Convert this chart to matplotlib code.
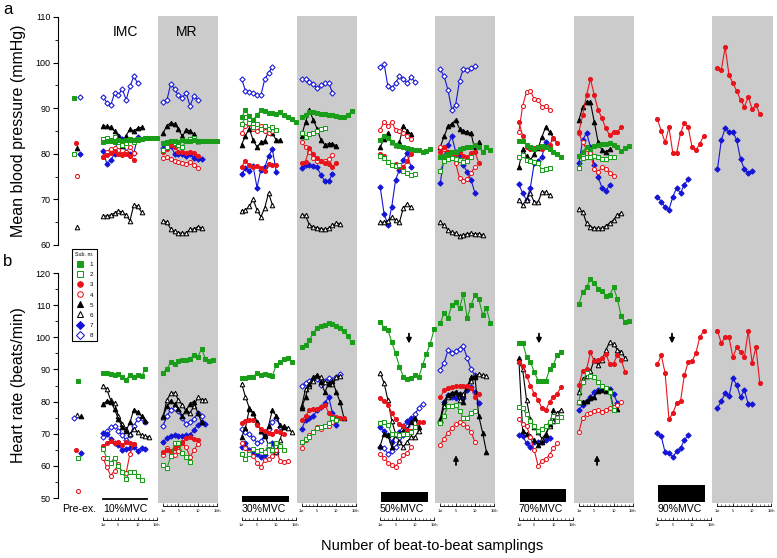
import matplotlib.pyplot as plt
from matplotlib.lines import Line2D
import numpy as np

plt.rcParams['font.family'] = ['Liberation Sans', 'DejaVu Sans']

output_path = "out.png"

""" subjects """
subjects = [1, 2, 3, 4, 5, 6, 7, 8]
sub_color = ['#1a9e1a', '#1a9e1a', '#e8141c', '#e8141c', 'black', 'black', '#1414d8', '#1414d8']
sub_marker = ['s', 's', 'o', 'o', '^', '^', 'D', 'D']
sub_filled = [True, False, True, False, True, False, True, False]

""" pre-exercise values (sub 1..8) """
mbp_pre = [92.2, 79.9, 82.3, 75.2, 81.2, 64.0, 79.9, 92.4]
hr_pre = [86.5, 62.3, 65.0, 52.3, 75.6, 75.8, 64.0, 75.0]

""" mean blood pressure (mmHg), beat-to-beat """
mbp_imc10 = {
    1: [82.5, 82.8, 83.0, 82.5, 83.0, 82.8, 83.0, 83.3, 83.0, 83.3, 83.3, 83.5, 83.5, 83.5, 83.5],
    2: [83.2, 83.5, 82.8, 83.6, 82.5, 82.0, 82.3, 83.0, 82.5, 83.0],
    3: [79.3, 79.7, 80.2, 80.6, 80.0, 79.8, 80.0, 79.5, 78.6],
    4: [79.3, 80.5, 81.0, 81.2, 80.8, 80.0, 80.5, 81.5, 80.2],
    5: [86.2, 86.0, 85.8, 85.0, 84.0, 81.8, 84.0, 85.4, 85.0, 85.6, 85.8],
    6: [66.3, 66.4, 66.6, 67.0, 67.5, 67.2, 66.6, 65.3, 68.8, 68.5, 67.2],
    7: [80.6, 77.8, 78.6, 80.0, 83.8, 83.2, 80.3, 80.0, 80.2, 83.6],
    8: [92.5, 91.2, 90.6, 93.3, 92.8, 94.3, 91.8, 94.8, 97.0, 95.5],
}
mbp_mr10 = {
    1: [82.3, 82.5, 82.8, 82.7, 82.5, 83.0, 82.8, 82.9, 83.0, 82.8, 82.7, 82.8, 82.7, 82.8, 82.8],
    2: [80.8, 81.5, 82.7, 82.3, 82.0, 81.5, 82.8, 83.3, 83.5, 82.8],
    3: [80.3, 81.0, 82.0, 81.5, 80.5, 80.3, 80.2, 80.5, 80.2, 79.5],
    4: [79.0, 79.2, 78.8, 78.5, 78.3, 78.0, 77.8, 78.2, 77.5, 76.8],
    5: [84.5, 86.2, 86.8, 86.5, 85.5, 83.8, 85.3, 85.0, 84.3, 82.8],
    6: [65.3, 65.0, 63.5, 63.0, 62.7, 62.6, 62.6, 63.4, 63.5, 64.0, 63.8],
    7: [81.2, 81.5, 81.8, 80.0, 80.0, 80.0, 79.5, 80.0, 79.0, 78.8, 78.8],
    8: [91.3, 91.8, 95.3, 94.2, 92.8, 92.3, 93.4, 90.5, 92.7, 91.8],
}
mbp_imc30 = {
    1: [88.0, 89.6, 88.2, 87.5, 88.5, 89.5, 89.3, 89.0, 89.0, 88.8, 89.2, 88.6, 88.0, 87.6, 87.0],
    2: [86.5, 88.0, 86.8, 85.8, 86.5, 85.5, 86.2, 85.5, 85.8, 85.2],
    3: [77.2, 78.4, 77.6, 77.0, 77.3, 76.8, 76.2, 77.8, 77.5, 77.6],
    4: [84.5, 86.0, 86.5, 85.5, 85.0, 86.0, 85.0, 84.5, 85.0],
    5: [82.0, 84.0, 85.5, 83.0, 81.5, 82.5, 82.8, 85.0, 84.5, 83.0, 83.0],
    6: [67.5, 67.6, 68.5, 70.0, 67.7, 66.2, 68.1, 71.4, 68.8],
    7: [75.5, 76.8, 76.3, 77.3, 72.6, 76.5, 77.0, 79.5, 81.0, 76.0],
    8: [96.5, 93.8, 93.6, 93.3, 93.0, 92.8, 96.3, 97.8, 99.0],
}
mbp_mr30 = {
    1: [88.0, 88.5, 89.2, 89.2, 89.0, 88.8, 88.7, 88.5, 88.6, 88.3, 88.0, 88.0, 88.5, 89.4],
    2: [84.5, 83.6, 84.3, 84.6, 85.0, 85.5, 85.6],
    3: [78.0, 78.3, 81.2, 80.0, 79.0, 78.5, 78.0, 77.8, 77.2, 78.0],
    4: [82.6, 81.5, 80.5, 79.0, 78.5, 78.5, 78.5, 78.8, 79.8],
    5: [84.0, 87.0, 89.5, 87.5, 85.5, 83.0, 82.0, 82.2, 82.2, 81.8],
    6: [66.6, 66.5, 64.4, 64.0, 63.8, 63.6, 63.4, 63.7, 64.3, 64.8, 64.6],
    7: [76.8, 77.6, 77.5, 77.3, 77.0, 75.4, 74.0, 74.0, 75.6],
    8: [96.4, 96.3, 95.8, 95.2, 94.4, 95.0, 95.5, 95.6, 93.4],
}
mbp_imc50 = {
    1: [83.0, 84.0, 83.5, 82.5, 82.0, 81.8, 81.5, 81.3, 81.0, 80.8, 80.8, 80.5, 80.6, 81.0],
    2: [79.5, 79.0, 78.3, 77.5, 77.4, 77.5, 76.3, 75.8, 75.4, 75.6],
    3: [80.0, 79.5, 78.3, 77.5, 77.8, 77.2, 77.0, 78.5, 80.0],
    4: [85.3, 87.0, 86.0, 87.0, 85.2, 85.0, 84.5, 84.0, 83.3],
    5: [81.5, 83.3, 84.6, 82.5, 82.0, 82.5, 86.2, 85.0, 84.3],
    6: [65.0, 65.0, 65.3, 66.1, 65.5, 65.0, 68.1, 69.0, 68.3],
    7: [72.7, 66.9, 64.4, 68.4, 74.3, 76.5, 78.6, 80.1, 77.1],
    8: [99.0, 99.8, 94.8, 94.4, 95.5, 97.0, 96.5, 95.5, 96.8, 95.8],
}
mbp_mr50 = {
    1: [79.3, 79.5, 80.0, 80.3, 80.5, 81.0, 81.3, 81.5, 81.5, 82.0, 81.5, 80.5, 81.5, 80.8],
    2: [76.3, 78.5, 78.8, 79.1, 78.9, 78.6, 78.3, 78.4, 79.4],
    3: [80.3, 81.5, 80.5, 80.2, 80.0, 80.3, 79.6, 79.2, 80.2, 80.5, 78.0],
    4: [81.5, 81.0, 80.5, 79.7, 77.9, 74.7, 74.0, 74.4, 75.8, 77.2],
    5: [81.5, 83.8, 86.0, 86.6, 87.4, 85.5, 85.0, 84.8, 84.5, 80.8, 82.6],
    6: [65.0, 64.3, 63.3, 62.8, 62.6, 62.0, 62.2, 62.5, 62.6, 62.4, 62.5, 62.2],
    7: [73.5, 79.5, 82.0, 83.8, 80.5, 79.7, 77.5, 76.0, 74.3, 71.4],
    8: [98.5, 97.0, 94.0, 89.6, 90.8, 96.0, 98.7, 98.4, 98.8, 99.3],
}
mbp_imc70 = {
    1: [82.8, 82.8, 82.0, 81.5, 81.0, 81.5, 81.8, 81.5, 81.0, 80.5, 80.0, 79.3],
    2: [79.3, 79.8, 78.6, 78.4, 78.3, 78.0, 76.4, 76.6, 76.9],
    3: [87.0, 84.0, 81.5, 81.0, 81.2, 81.5, 81.0, 81.5, 82.0, 83.5, 82.3],
    4: [84.8, 90.5, 93.6, 93.8, 92.0, 91.9, 90.3, 90.4, 89.6],
    5: [77.0, 81.0, 79.5, 78.6, 80.0, 81.2, 83.7, 85.9, 84.8, 83.5],
    6: [69.9, 68.8, 69.9, 71.4, 69.4, 69.4, 71.6, 71.6, 71.0],
    7: [73.3, 71.4, 69.9, 72.6, 77.9, 78.5, 79.3, 82.6],
}
mbp_mr70 = {
    1: [79.5, 80.5, 81.5, 81.0, 81.7, 81.9, 82.1, 82.2, 82.3, 82.0, 81.5, 80.6, 81.2, 81.7],
    2: [76.9, 79.0, 79.3, 79.2, 79.5, 79.2, 78.8, 78.8, 79.3, 79.4],
    3: [84.8, 88.5, 92.9, 96.4, 92.9, 89.6, 87.8, 85.6, 84.1, 84.8, 84.8, 85.9],
    4: [84.5, 82.5, 81.0, 80.2, 76.6, 76.1, 77.0, 76.6, 75.8, 75.2],
    5: [87.4, 90.3, 91.4, 91.3, 87.0, 82.6, 80.8, 80.4, 81.0],
    6: [67.9, 67.3, 64.8, 64.0, 63.7, 63.7, 63.7, 64.2, 64.8, 65.5, 66.6, 67.0],
    7: [78.0, 83.0, 84.6, 81.5, 77.5, 75.0, 72.5, 71.9, 73.2],
}
mbp_imc90 = {
    3: [87.6, 85.0, 82.5, 85.8, 80.2, 80.2, 84.5, 86.8, 85.8, 81.5, 80.8, 82.2, 83.9],
    7: [70.6, 69.5, 68.3, 67.7, 70.6, 72.5, 71.4, 73.2, 74.4],
}
mbp_mr90 = {
    3: [98.8, 98.4, 103.4, 97.3, 95.5, 93.8, 91.8, 90.3, 92.5, 89.8, 90.7, 88.7],
    7: [76.6, 83.0, 85.6, 84.8, 84.8, 83.0, 78.8, 76.6, 75.8, 76.2],
}

""" heart rate (beats/min), beat-to-beat """
hr_imc10 = {
    1: [89.0, 88.8, 88.5, 88.2, 88.7, 87.7, 86.8, 88.3, 87.8, 88.3, 87.9, 90.0],
    2: [65.2, 62.5, 61.0, 62.5, 60.0, 58.0, 56.0, 58.2, 58.0, 56.8, 55.7],
    3: [66.3, 67.0, 67.8, 67.0, 67.3, 66.6, 67.4, 67.1, 66.7],
    4: [62.5, 59.5, 57.0, 58.5, 60.5, 58.0, 57.7, 63.8, 66.8],
    5: [79.2, 80.2, 80.0, 77.6, 74.6, 72.0, 71.0, 73.5, 77.5, 76.8, 75.5, 74.0],
    6: [85.0, 83.8, 80.4, 79.5, 75.5, 73.0, 71.5, 69.8, 71.5, 70.5, 69.5, 69.2, 69.0],
    7: [70.3, 69.8, 68.5, 67.2, 66.4, 65.0, 65.3, 65.6, 65.9, 64.7, 65.6, 65.2],
    8: [69.0, 71.0, 72.0, 72.5, 71.0, 69.5, 68.0, 69.5, 72.5, 74.5, 75.0, 73.5],
}
hr_mr10 = {
    1: [89.0, 90.2, 92.2, 91.8, 92.5, 92.8, 93.0, 93.3, 94.5, 93.8, 96.5, 93.3, 92.7, 92.8],
    2: [60.2, 59.2, 63.0, 67.0, 67.2, 64.0, 62.7, 61.1],
    3: [64.2, 64.8, 64.5, 65.5, 66.5, 67.2, 68.6, 68.9, 68.4, 68.0],
    4: [63.3, 65.5, 63.8, 63.5, 64.5, 67.3, 65.8, 62.8, 64.8, 66.8],
    5: [75.4, 78.5, 80.2, 79.2, 77.6, 75.6, 77.3, 79.4, 80.0, 76.5, 73.5],
    6: [75.2, 80.5, 82.6, 82.7, 80.5, 79.0, 77.0, 76.5, 78.5, 81.3, 80.6, 80.5],
    7: [67.3, 68.7, 69.3, 69.5, 69.3, 69.4, 69.6, 69.7, 71.1, 72.8, 73.5, 73.0],
    8: [72.5, 75.5, 77.5, 78.0, 77.0, 74.8, 73.0, 73.5, 74.5, 76.5, 75.5],
}
hr_imc30 = {
    1: [87.3, 87.4, 87.5, 87.8, 88.8, 88.3, 88.5, 88.4, 88.1, 91.3, 92.2, 93.2, 93.7, 92.4],
    2: [63.8, 62.2, 63.6, 65.3, 64.5, 65.0, 64.4, 66.4, 65.0, 67.2, 66.3, 65.0],
    3: [73.2, 74.0, 74.4, 74.2, 72.8, 71.5, 70.8, 70.2, 70.0, 70.8, 70.6, 69.8],
    4: [67.0, 65.5, 64.4, 63.2, 61.0, 59.7, 61.8, 62.2, 63.2, 64.8, 61.5, 61.3, 61.6],
    5: [69.0, 71.8, 77.6, 76.3, 73.8, 70.8, 69.2, 72.5, 77.4, 75.5, 72.6, 72.0],
    6: [85.6, 81.5, 78.0, 76.5, 73.5, 71.0, 69.5, 66.5, 65.0, 64.2, 68.0, 72.5, 71.8, 70.5],
    7: [65.8, 67.0, 65.0, 64.2, 63.6, 62.8, 63.5, 66.4, 67.0, 64.3],
    8: [71.5, 70.5, 69.8, 68.6, 67.2, 67.6, 69.6, 71.4, 73.6, 75.0, 72.2],
}
hr_mr30 = {
    1: [97.0, 97.6, 99.1, 101.3, 103.0, 103.5, 103.8, 104.3, 104.1, 103.6, 102.8, 102.0, 100.3, 98.4],
    2: [67.3, 68.3, 69.0, 70.5, 71.8, 72.0, 72.5, 73.2, 75.0, 74.2],
    3: [74.2, 75.5, 77.3, 77.8, 77.7, 78.2, 79.0, 76.6, 75.5, 75.2, 75.0, 75.0],
    4: [65.5, 68.0, 69.5, 70.5, 72.0, 71.5, 72.5, 72.3, 73.5, 75.0],
    5: [78.0, 81.5, 85.5, 87.6, 88.3, 86.0, 83.0, 85.5, 86.4, 83.0, 79.8, 74.8],
    6: [78.5, 84.0, 85.0, 86.5, 88.0, 87.5, 86.0, 85.8, 85.5, 87.5, 88.0],
    7: [71.5, 74.2, 74.8, 75.5, 77.3, 78.2, 79.5, 81.5, 76.5, 72.7],
    8: [85.0, 85.8, 86.5, 87.0, 87.0, 85.3, 86.5, 87.2, 86.7, 87.5, 88.5],
}
hr_imc50 = {
    1: [104.7, 103.0, 102.3, 98.5, 95.0, 90.8, 87.8, 87.0, 87.3, 88.3, 87.5, 91.3, 94.8, 98.0, 102.5],
    2: [73.2, 73.5, 72.8, 69.8, 69.8, 69.5, 69.8, 70.0, 70.5, 72.0],
    3: [81.0, 80.3, 79.0, 76.5, 74.5, 73.0, 72.5, 71.2, 70.8, 72.0, 73.5, 73.8],
    4: [63.7, 62.5, 61.0, 60.3, 59.8, 61.5, 63.3, 64.0, 65.8],
    5: [66.3, 70.0, 69.5, 65.8, 70.0, 69.8, 71.0, 71.5, 73.5, 75.0, 72.0],
    6: [88.8, 85.8, 80.5, 74.0, 70.0, 67.5, 66.0, 67.5, 69.0, 69.0, 71.0],
    7: [72.0, 71.0, 69.5, 67.5, 69.5, 70.5, 72.5, 74.0, 74.8],
    8: [66.0, 65.5, 63.8, 64.5, 66.0, 67.5, 69.5, 72.5, 74.0, 76.0, 78.0, 79.3],
}
hr_mr50 = {
    1: [104.4, 107.5, 106.0, 110.0, 111.0, 109.0, 113.5, 106.0, 110.0, 113.2, 112.0, 107.0, 109.0, 104.4],
    2: [73.3, 75.5, 78.5, 78.5, 79.0, 77.2, 74.8, 75.0, 76.5, 77.2],
    3: [81.3, 83.5, 84.3, 84.5, 84.8, 84.8, 84.8, 85.0, 84.3, 81.5, 82.5],
    4: [66.5, 68.5, 70.3, 71.7, 73.0, 73.7, 73.0, 72.0, 70.5, 67.5],
    5: [74.5, 80.0, 82.2, 82.8, 83.0, 82.5, 79.8, 84.8, 87.5, 87.8, 75.5, 70.3, 64.3],
    6: [74.0, 78.5, 81.5, 82.5, 83.0, 80.5, 82.5, 84.5, 86.5, 88.0, 88.5, 88.2, 88.0],
    7: [73.5, 80.0, 82.0, 81.5, 81.0, 82.5, 81.0, 83.5, 84.5, 83.0, 79.5],
    8: [89.8, 92.0, 96.0, 95.0, 95.6, 96.5, 97.2, 93.5, 90.0, 88.2],
}
hr_imc70 = {
    1: [98.2, 98.3, 94.0, 92.3, 89.3, 86.5, 86.3, 86.4, 90.0, 91.5, 94.5, 95.5],
    2: [78.3, 78.0, 76.0, 74.0, 72.5, 71.0, 71.5, 72.5, 73.5, 75.5, 74.0, 75.2],
    3: [92.3, 91.0, 88.0, 85.0, 82.5, 80.5, 78.0, 77.3, 80.0, 81.5, 82.5, 84.5],
    4: [74.5, 73.0, 72.5, 69.0, 65.0, 60.0, 61.5, 62.0, 63.5, 65.5, 67.0],
    5: [93.5, 71.0, 70.0, 69.2, 68.0, 66.5, 67.5, 69.5, 73.0, 77.5],
    6: [92.5, 90.0, 80.5, 74.5, 72.0, 70.5, 68.5, 70.0, 72.5, 74.0, 76.5, 77.5],
    7: [69.7, 69.3, 67.0, 65.8, 67.3, 67.3, 67.5, 68.0, 68.8],
}
hr_mr70 = {
    1: [110.3, 114.0, 115.5, 118.2, 117.0, 115.0, 114.5, 113.0, 113.2, 115.6, 112.0, 106.5, 104.8, 105.0],
    2: [80.0, 86.0, 88.8, 88.0, 87.6, 86.2, 85.0, 84.3, 82.9, 77.3],
    3: [85.1, 89.5, 90.0, 95.3, 92.5, 93.0, 93.5, 94.8, 91.8, 91.8, 94.5, 93.0, 89.2],
    4: [70.5, 75.0, 76.0, 76.5, 77.2, 77.5, 76.8, 77.5, 78.0, 78.3, 79.0, 79.8],
    5: [79.8, 80.0, 80.2, 81.0, 81.5, 83.3, 83.6, 83.3, 83.5, 78.0, 77.8],
    6: [83.0, 87.0, 88.0, 89.5, 93.0, 91.5, 92.8, 96.0, 98.5, 97.8, 96.2, 95.5, 93.5],
    7: [77.3, 79.0, 80.3, 81.5, 83.0, 83.5, 84.2, 84.0, 84.0, 82.5, 79.6],
}
hr_imc90 = {
    3: [91.6, 94.4, 88.9, 74.5, 76.4, 79.5, 80.1, 88.2, 92.3, 92.6, 95.1, 100.0, 102.0],
    7: [70.2, 69.2, 64.2, 64.0, 62.7, 64.5, 65.5, 68.0, 69.5],
}
hr_mr90 = {
    3: [102.0, 98.2, 100.0, 100.0, 93.8, 96.9, 95.4, 93.8, 102.0, 92.0, 96.9, 85.7],
    7: [78.0, 80.1, 82.6, 81.6, 87.3, 85.1, 81.4, 83.6, 79.2, 79.2],
}

mbp_segments = [mbp_imc10, mbp_mr10, mbp_imc30, mbp_mr30, mbp_imc50, mbp_mr50, mbp_imc70, mbp_mr70, mbp_imc90, mbp_mr90]
hr_segments = [hr_imc10, hr_mr10, hr_imc30, hr_mr30, hr_imc50, hr_mr50, hr_imc70, hr_mr70, hr_imc90, hr_mr90]
mvc_labels = ['10%MVC', '30%MVC', '50%MVC', '70%MVC', '90%MVC']

""" layout (x in beat units, 1 beat = 3.85 px, beat 1 of IMC10 at px 103) """
px_beat = 3.85
px0 = 103
seg_start = [0, 15.6, 36, 51.6, 72, 87.6, 108, 123.6, 144, 159.6]
pre_x_mbp = [74, 74, 76, 77, 77, 77, 80, 80]
pre_x_hr = [78, 78, 76, 78, 81, 77, 81, 74]
bar_top = [498, 496, 492, 489, 485]

W, H = 777, 558


def bx(px):
    return (px - px0) / px_beat


fig = plt.figure(figsize=(W / 100, H / 100), dpi=100)

# background layer: grey recovery bands, rulers, bars, labels
lay = fig.add_axes([0, 0, 1, 1])
lay.set_xlim(bx(0), bx(W))
lay.set_ylim(H, 0)
lay.axis('off')

for i, s in enumerate(seg_start):
    if i % 2 == 1:
        lay.fill_between([s - 1.3, s + 14.3], 16, 503, color='#cbcbcb', lw=0)
    # beat ruler under each segment
    y0 = 506 if i % 2 == 1 else 520
    lay.plot([s, s + 14], [y0, y0], color='black', lw=0.6)
    lay.vlines(s + np.arange(15), y0 - 2, y0, color='black', lw=0.4)
    lay.vlines([s, s + 4, s + 9, s + 14], y0 - 3, y0, color='black', lw=0.5)
    for b, t in zip([0, 4, 9, 14], ['1st', '5', '10', '15th']):
        lay.text(s + b, y0 + 5, t, fontsize=2.8, ha='center', va='center')

for k in range(5):
    s = seg_start[2 * k]
    if k == 0:
        lay.plot([s, s + 11.5], [499, 499], color='black', lw=1.3)
    else:
        lay.fill_between([s + 0.2, s + 12.3], bar_top[k], 501.5, color='black', lw=0)
    lay.text(s + 5.7, 508.5, mvc_labels[k], fontsize=7.6, ha='center', va='center')
lay.text(bx(79), 508.5, 'Pre-ex.', fontsize=7.6, ha='center', va='center')
lay.text(bx(125), 32, 'IMC', fontsize=10, ha='center', va='center')
lay.text(bx(187), 32, 'MR', fontsize=10, ha='center', va='center')
lay.text(bx(8), 9, 'a', fontsize=12, ha='center', va='center')
lay.text(bx(8), 262, 'b', fontsize=12, ha='center', va='center')
lay.text(bx(432), 546, 'Number of beat-to-beat samplings', fontsize=10.5, ha='center', va='center')

# data panels
ax_a = fig.add_axes([58 / W, 1 - 245 / H, (W - 58) / W, 228 / H], facecolor='none')
ax_b = fig.add_axes([58 / W, 1 - 498 / H, (W - 58) / W, 225 / H], facecolor='none')

marker_size = {'s': 2.8, 'o': 2.9, '^': 3.3, 'D': 2.7}


def style(j):
    return dict(color=sub_color[j], marker=sub_marker[j], lw=0.8,
                ms=marker_size[sub_marker[j]],
                mfc=sub_color[j] if sub_filled[j] else 'white',
                mec=sub_color[j], mew=0.75)


for ax, segs, pre, pre_x in [(ax_a, mbp_segments, mbp_pre, pre_x_mbp), (ax_b, hr_segments, hr_pre, pre_x_hr)]:
    for j, sub in enumerate(subjects):
        ax.plot([bx(pre_x[j])], [pre[j]], ls='none', **{k: v for k, v in style(j).items() if k != 'lw'})
    for i, seg in enumerate(segs):
        for sub in sorted(seg.keys(), reverse=True):
            j = sub - 1
            vals = np.array(seg[sub])
            ax.plot(seg_start[i] + np.arange(len(vals)), vals, **style(j))
    ax.set_xlim(bx(58), bx(W))
    ax.set_xticks([])
    for sp in ['top', 'right', 'bottom']:
        ax.spines[sp].set_visible(False)
    ax.spines['left'].set_linewidth(0.8)
    ax.tick_params(axis='y', labelsize=6.5, length=3.5, width=0.8, pad=2)
    ax.tick_params(axis='y', which='minor', length=2, width=0.6)
    ax.yaxis.set_label_coords(-0.045, 0.5)

ax_a.set_ylim(60, 110)
ax_a.set_yticks(np.arange(60, 111, 10))
ax_a.set_yticks(np.arange(65, 110, 10), minor=True)
ax_a.set_ylabel('Mean blood pressure (mmHg)', fontsize=11.5)

ax_b.set_ylim(50, 120)
ax_b.set_yticks(np.arange(50, 121, 10))
ax_b.set_yticks(np.arange(55, 120, 10), minor=True)
ax_b.set_ylabel('Heart rate (beats/min)', fontsize=11.5)

# arrows marking the heart-rate response
arrow = dict(arrowstyle='-|>', color='black', lw=1.3, mutation_scale=7)
for px in [409, 539, 672]:
    ax_b.annotate('', xy=(bx(px), 97.2), xytext=(bx(px), 102.0), arrowprops=arrow)
for px in [456, 597]:
    ax_b.annotate('', xy=(bx(px), 64.2), xytext=(bx(px), 59.4), arrowprops=arrow)

# legend
handles = [Line2D([], [], ls='none', **{k: v for k, v in style(j).items() if k != 'lw'}) for j in range(8)]
for h in handles:
    h.set_markersize(4.0)
leg = fig.legend(handles, [str(s) for s in subjects], title='Sub. nr.', loc='upper left',
                 bbox_to_anchor=(69 / W, 1 - 246 / H), fontsize=4.5, title_fontsize=3.8,
                 labelspacing=0.75, handlelength=1.2, handletextpad=1.0, borderpad=0.5,
                 fancybox=False, edgecolor='black', framealpha=1)
leg.get_frame().set_linewidth(0.8)

plt.savefig(output_path, dpi=100)
